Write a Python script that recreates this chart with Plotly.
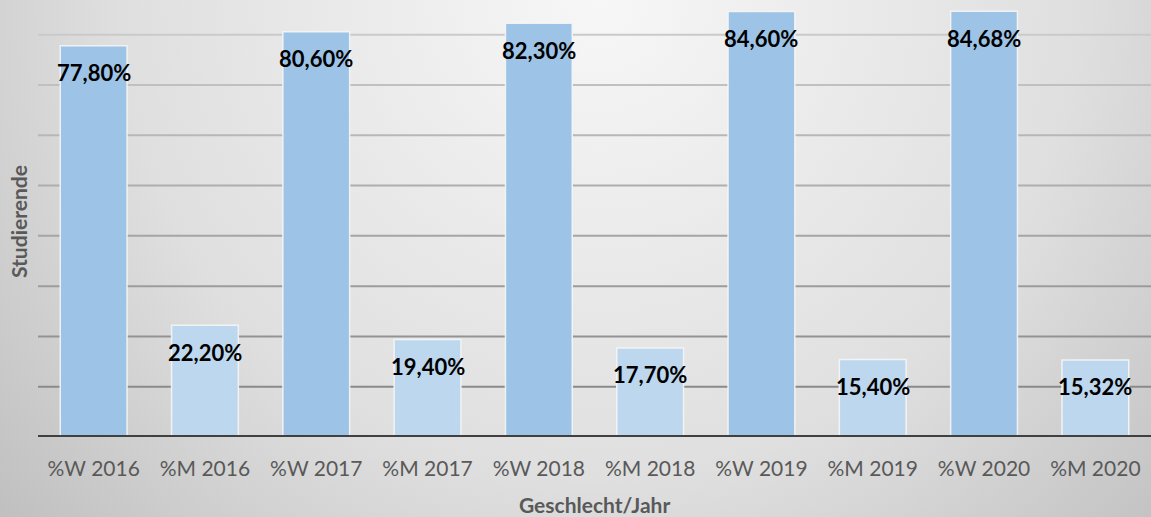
import base64
import plotly.graph_objects as go

# Share of students by gender (W = women, M = men), per year
years = ["2016", "2017", "2018", "2019", "2020"]
share_w = [77.80, 80.60, 82.30, 84.60, 84.68]
share_m = [22.20, 19.40, 17.70, 15.40, 15.32]

categories = []
values = []
colors = []
for yr, w, m in zip(years, share_w, share_m):
    categories += [f"%W {yr}", f"%M {yr}"]
    values += [w, m]
    colors += ["#9DC3E6", "#BDD7EE"]

grid_levels = [10, 20, 30, 40, 50, 60, 70, 80]

W, H = 1151, 517
ML, MR, MT, MB = 38, 0, 0, 80
PW, PH = W - ML - MR, H - MT - MB
FONT = "Lato"

# soft radial background
svg = (
    f'<svg xmlns="http://www.w3.org/2000/svg" width="{W}" height="{H}">'
    '<defs><radialGradient id="g" gradientUnits="userSpaceOnUse" cx="600" cy="0" r="800">'
    '<stop offset="0" stop-color="#F7F7F7"/>'
    '<stop offset="0.6" stop-color="#DFDFDF"/>'
    '<stop offset="1" stop-color="#BFBFBF"/>'
    '</radialGradient></defs>'
    f'<rect width="{W}" height="{H}" fill="url(#g)"/></svg>'
)
bg_src = "data:image/svg+xml;base64," + base64.b64encode(svg.encode()).decode()

fig = go.Figure(
    go.Bar(
        x=categories,
        y=values,
        marker=dict(color=colors, line=dict(color="rgba(245,245,245,0.9)", width=1.5)),
        hoverinfo="skip",
    )
)

# gridlines, darker toward the baseline
shapes = []
for lvl in grid_levels:
    c = int(138 + (202 - 138) * (lvl - 10) / 70)
    shapes.append(dict(
        type="line", xref="paper", yref="y", x0=0, x1=1, y0=lvl, y1=lvl,
        line=dict(color=f"rgb({c},{c},{c})", width=2), layer="below",
    ))
shapes.append(dict(
    type="line", xref="paper", yref="y", x0=0, x1=1, y0=0, y1=0,
    line=dict(color="#404040", width=4), layer="above",
))

annotations = []
for cat, v in zip(categories, values):
    annotations.append(dict(
        x=cat, y=v, xref="x", yref="y",
        text=f"<b>{v:.2f}".replace(".", ",") + "%</b>",
        showarrow=False, yanchor="middle", xanchor="center", yshift=-27,
        font=dict(family=FONT, size=22, color="#000000"),
    ))
annotations.append(dict(
    text="<b>Studierende</b>", xref="paper", yref="paper",
    x=(18 - ML) / PW, y=1 - (222 - MT) / PH, textangle=-90,
    showarrow=False, xanchor="center", yanchor="middle",
    font=dict(family=FONT, size=21, color="#595959"),
))
annotations.append(dict(
    text="<b>Geschlecht/Jahr</b>", xref="paper", yref="paper",
    x=0.5, y=(PH + MT - 504) / PH,
    showarrow=False, xanchor="center", yanchor="middle",
    font=dict(family=FONT, size=21, color="#595959"),
))

fig.update_layout(
    width=W, height=H,
    margin=dict(l=ML, r=MR, t=MT, b=MB),
    paper_bgcolor="#D9D9D9",
    plot_bgcolor="rgba(0,0,0,0)",
    bargap=0.4,
    showlegend=False,
    shapes=shapes,
    annotations=annotations,
    images=[dict(
        source=bg_src, xref="paper", yref="paper",
        x=-ML / PW, y=1 + MT / PH, sizex=W / PW, sizey=H / PH,
        xanchor="left", yanchor="top", sizing="stretch", layer="below",
    )],
    xaxis=dict(
        showgrid=False, showline=False, zeroline=False,
        ticks="outside", ticklen=13, tickcolor="rgba(0,0,0,0)",
        tickfont=dict(family=FONT, size=21, color="#595959"),
        fixedrange=True,
    ),
    yaxis=dict(
        range=[0, 86.9], showgrid=False, zeroline=False, showline=False,
        showticklabels=False, fixedrange=True,
    ),
)

fig.write_html("out.html")
